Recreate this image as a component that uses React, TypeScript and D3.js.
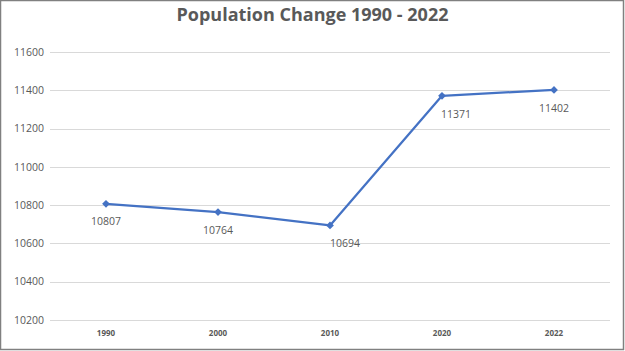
import React, { useEffect, useRef } from "react";
import * as d3 from "d3";

const years = ["1990", "2000", "2010", "2020", "2022"];
const population = [10807, 10764, 10694, 11371, 11402];
const yTicks = [10200, 10400, 10600, 10800, 11000, 11200, 11400, 11600];
// horizontal nudge of each data label (Excel shifts some to clear the line)
const labelShift = [0, 0, 15, 14, 0];

const W = 625;
const H = 351;

export default function App() {
  const ref = useRef<SVGSVGElement>(null);

  useEffect(() => {
    const svg = d3.select(ref.current);
    svg.selectAll("*").remove();

    const margin = { top: 52, right: 15, bottom: 31, left: 50 };

    const x = d3
      .scaleBand()
      .domain(years)
      .range([margin.left, W - margin.right]);

    const y = d3
      .scaleLinear()
      .domain([10200, 11600])
      .range([H - margin.bottom, margin.top]);

    svg
      .append("rect")
      .attr("x", 0.5)
      .attr("y", 0.5)
      .attr("width", W - 2)
      .attr("height", H - 2)
      .attr("fill", "#fff")
      .attr("stroke", "#808080")
      .attr("stroke-width", 1.5);

    svg
      .append("text")
      .attr("x", W / 2)
      .attr("y", 21)
      .attr("text-anchor", "middle")
      .style("font-family", "'Open Sans', sans-serif")
      .style("font-weight", "bold")
      .style("font-size", "18px")
      .style("fill", "#595959")
      .text("Population Change 1990 - 2022");

    // gridlines
    svg
      .append("g")
      .selectAll("line")
      .data(yTicks)
      .enter()
      .append("line")
      .attr("x1", margin.left)
      .attr("x2", W - margin.right)
      .attr("y1", (d) => Math.round(y(d)) + 0.5)
      .attr("y2", (d) => Math.round(y(d)) + 0.5)
      .attr("stroke", "#d9d9d9")
      .attr("stroke-width", 1);

    // y axis labels
    svg
      .append("g")
      .selectAll("text")
      .data(yTicks)
      .enter()
      .append("text")
      .attr("x", 44)
      .attr("y", (d) => y(d))
      .attr("dy", "0.35em")
      .attr("text-anchor", "end")
      .style("font-family", "'Open Sans', sans-serif")
      .style("font-size", "10.5px")
      .style("fill", "#595959")
      .text((d) => d);

    // x axis labels
    svg
      .append("g")
      .selectAll("text")
      .data(years)
      .enter()
      .append("text")
      .attr("x", (d) => x(d)! + x.bandwidth() / 2)
      .attr("y", H - margin.bottom + 16)
      .attr("text-anchor", "middle")
      .style("font-family", "'Open Sans', sans-serif")
      .style("font-weight", "bold")
      .style("font-size", "8px")
      .style("fill", "#595959")
      .text((d) => d);

    const pts = years.map((yr, i) => ({
      x: x(yr)! + x.bandwidth() / 2,
      y: y(population[i]),
      v: population[i],
      dx: labelShift[i],
    }));

    const line = d3
      .line<{ x: number; y: number }>()
      .x((d) => d.x)
      .y((d) => d.y);

    svg
      .append("path")
      .attr("d", line(pts))
      .attr("fill", "none")
      .attr("stroke", "#4472C4")
      .attr("stroke-width", 2.25)
      .attr("stroke-linejoin", "round");

    // square rotated 45deg gives Excel's even diamond
    const diamond = d3.symbol().type(d3.symbolSquare).size(30);
    svg
      .append("g")
      .selectAll("path")
      .data(pts)
      .enter()
      .append("path")
      .attr("d", diamond)
      .attr("transform", (d) => `translate(${d.x},${d.y}) rotate(45)`)
      .attr("fill", "#4472C4");

    svg
      .append("g")
      .selectAll("text")
      .data(pts)
      .enter()
      .append("text")
      .attr("x", (d) => d.x + d.dx)
      .attr("y", (d) => d.y + 18)
      .attr("dy", "0.35em")
      .attr("text-anchor", "middle")
      .style("font-family", "'Open Sans', sans-serif")
      .style("font-size", "10.5px")
      .style("fill", "#595959")
      .text((d) => d.v);
  }, []);

  return (
    <svg
      ref={ref}
      width={W}
      height={H}
      style={{ position: "absolute", left: 0, top: 0, display: "block" }}
    />
  );
}
